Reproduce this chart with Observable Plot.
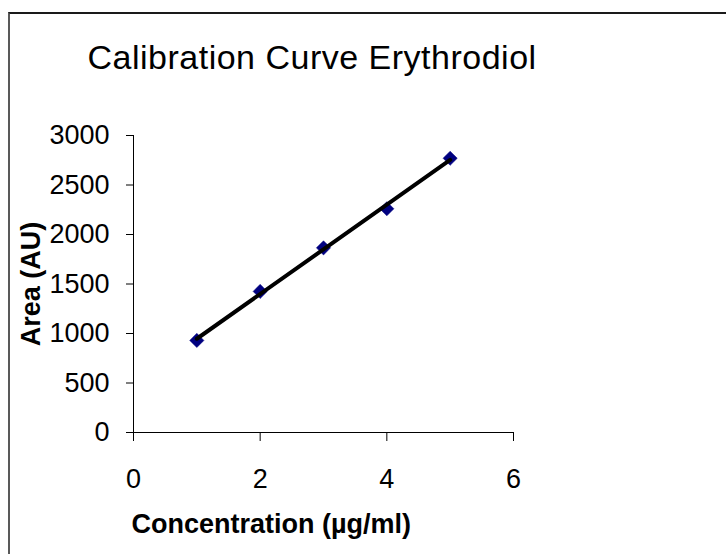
<!DOCTYPE html>
<html>
<head>
<meta charset="utf-8">
<script src="https://cdn.jsdelivr.net/npm/d3@7"></script>
<script src="https://cdn.jsdelivr.net/npm/@observablehq/plot@0.6"></script>
<style>
  html, body { margin: 0; padding: 0; background: #ffffff; }
  #wrap { position: relative; width: 726px; height: 554px; overflow: hidden; background: #ffffff; }
  #border { position: absolute; left: 8px; top: 12px; width: 900px; height: 800px;
            border-top: 2px solid #1a1a1a; border-left: 2px solid #595959; box-sizing: border-box; }
  #chart { position: absolute; left: 0; top: 0; }
</style>
</head>
<body>
<div id="wrap"><div id="border"></div><div id="chart"></div></div>
<script>
const title = "Calibration Curve Erythrodiol";
const xLabel = "Concentration (µg/ml)";
const yLabel = "Area (AU)";
const concentration = [1, 2, 3, 4, 5];
const area = [930, 1425, 1865, 2260, 2770];
const xTicks = [0, 2, 4, 6];
const yTicks = [0, 500, 1000, 1500, 2000, 2500, 3000];

const data = concentration.map((c, i) => ({c, a: area[i]}));
const font = "'Liberation Sans', Arial, Helvetica, sans-serif";

const chart = Plot.plot({
  width: 726,
  height: 554,
  marginLeft: 133,
  marginRight: 213,
  marginTop: 135,
  marginBottom: 122,
  style: {background: "transparent", fontFamily: font, color: "#000"},
  x: {domain: [0, 6]},
  y: {domain: [0, 3000]},
  marks: [
    Plot.axisY({ticks: yTicks, tickFormat: d => String(d), tickSize: 7, tickPadding: 17, fontSize: 27, label: null, stroke: "#000"}),
    Plot.axisX({ticks: xTicks, tickFormat: d => String(d), tickSize: 9, tickPadding: 27, fontSize: 27, label: null, stroke: "#000"}),
    Plot.ruleX([0], {stroke: "#000", strokeWidth: 1}),
    Plot.ruleY([0], {stroke: "#000", strokeWidth: 1}),
    Plot.dot(data, {x: "c", y: "a", symbol: "diamond2", r: 6.4, fill: "#000080", stroke: "#000080", strokeWidth: 0.5}),
    Plot.linearRegressionY(data, {x: "c", y: "a", stroke: "#000", strokeWidth: 4, ci: 0}),
    Plot.text([title], {frameAnchor: "top-left", textAnchor: "start", lineAnchor: "top", dx: -46, dy: -91,
                        fontSize: 34, fill: "#000"}),
    Plot.text([yLabel], {frameAnchor: "left", rotate: -90, textAnchor: "middle", lineAnchor: "top", dx: -113, fontSize: 27, fontWeight: "bold", fill: "#000"}),
    Plot.text([xLabel], {frameAnchor: "bottom-left", textAnchor: "start", lineAnchor: "top", dx: -2, dy: 81, fontSize: 27, fontWeight: "bold", fill: "#000"})
  ]
});
d3.select(chart).selectAll("text").filter(function() { return this.textContent === title; })
  .attr("letter-spacing", "0.5px");
document.getElementById("chart").appendChild(chart);
</script>
</body>
</html>
